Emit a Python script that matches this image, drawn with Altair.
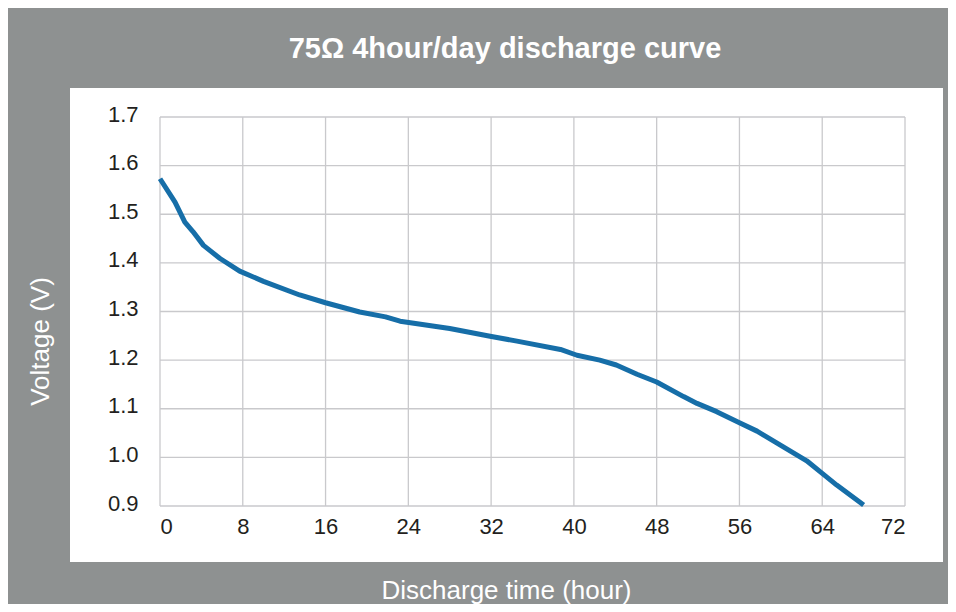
import altair as alt
import pandas as pd

# ---- data ----
hours = [0, 1.45, 2.4, 3.2, 4.2, 5.8, 7.7, 10.0, 13.5, 16.0, 19.3, 21.8, 23.2, 24.2,
         28.0, 31.9, 34.5, 38.7, 40.3, 42.5, 44.1, 46.1, 48.0, 50.6, 51.9, 53.8,
         56.0, 57.7, 60.2, 62.5, 64.0, 65.4, 68.0]
volts = [1.573, 1.525, 1.484, 1.464, 1.436, 1.409, 1.383, 1.362, 1.334, 1.318, 1.299,
         1.289, 1.280, 1.277, 1.265, 1.249, 1.239, 1.222, 1.210, 1.200, 1.190, 1.171,
         1.155, 1.125, 1.111, 1.094, 1.071, 1.054, 1.022, 0.993, 0.967, 0.943, 0.902]
x_ticks = [0, 8, 16, 24, 32, 40, 48, 56, 64, 72]
y_ticks = [0.9, 1.0, 1.1, 1.2, 1.3, 1.4, 1.5, 1.6, 1.7]

TITLE = "75Ω 4hour/day discharge curve"
X_TITLE = "Discharge time (hour)"
Y_TITLE = "Voltage (V)"

# ---- styling ----
W, H = 745, 389
BG = "#8e9191"
BLUE = "#166ea8"
GRID = "#c9c9cc"
LABEL = "#231f20"
FONT = "Liberation Sans"

curve = pd.DataFrame({"hour": hours, "voltage": volts})
xs = pd.DataFrame({"hour": x_ticks})
ys = pd.DataFrame({"voltage": y_ticks})

xscale = alt.Scale(domain=[0, 72], nice=False, zero=False)
yscale = alt.Scale(domain=[0.9, 1.7], nice=False, zero=False)

xaxis = alt.Axis(values=x_ticks, title=X_TITLE, grid=False, domain=False, ticks=False,
                 labelFontSize=22, labelColor=LABEL, labelFont=FONT, labelPadding=10,
                 titleFontSize=26, titleColor="white", titleFont=FONT, titleFontWeight="normal",
                 titleX=346, titleY=92, titleAlign="center", titleBaseline="alphabetic",
                 zindex=1)
yaxis = alt.Axis(values=y_ticks, format=".1f", title=Y_TITLE, grid=False, domain=False,
                 ticks=False, labelFontSize=22, labelColor=LABEL, labelFont=FONT,
                 labelPadding=22, labelOffset=-3,
                 titleFontSize=26, titleColor="white", titleFont=FONT, titleFontWeight="normal",
                 titleX=-120, titleY=224, titleAngle=270, titleAlign="center",
                 titleBaseline="middle", zindex=1)

panel = alt.Chart(pd.DataFrame({"p": [0]})).mark_rect(color="white").encode(
    x=alt.value(-90), x2=alt.value(783), y=alt.value(-29), y2=alt.value(445)
)

xgrid = alt.Chart(xs).mark_rule(color=GRID, strokeWidth=1.3).encode(
    x=alt.X("hour:Q", scale=xscale, axis=xaxis)
)
ygrid = alt.Chart(ys).mark_rule(color=GRID, strokeWidth=1.3).encode(
    y=alt.Y("voltage:Q", scale=yscale, axis=yaxis)
)
line = alt.Chart(curve).mark_line(color=BLUE, strokeWidth=5, strokeJoin="round").encode(
    x=alt.X("hour:Q", scale=xscale, axis=xaxis),
    y=alt.Y("voltage:Q", scale=yscale, axis=yaxis),
)

chart = alt.layer(panel, xgrid, ygrid, line).properties(
    width=W, height=H,
    title=alt.TitleParams(TITLE, fontSize=29, fontWeight="bold", color="white", font=FONT,
                          anchor="middle", frame="group", dx=-27.5, offset=1,
                          baseline="alphabetic"),
    autosize=alt.AutoSizeParams(type="none"),
    padding={"left": 152, "top": 109, "right": 43, "bottom": 98},
    background=BG,
).configure_view(strokeWidth=0)

chart.save("out.html", embed_options={"renderer": "svg", "actions": False})
